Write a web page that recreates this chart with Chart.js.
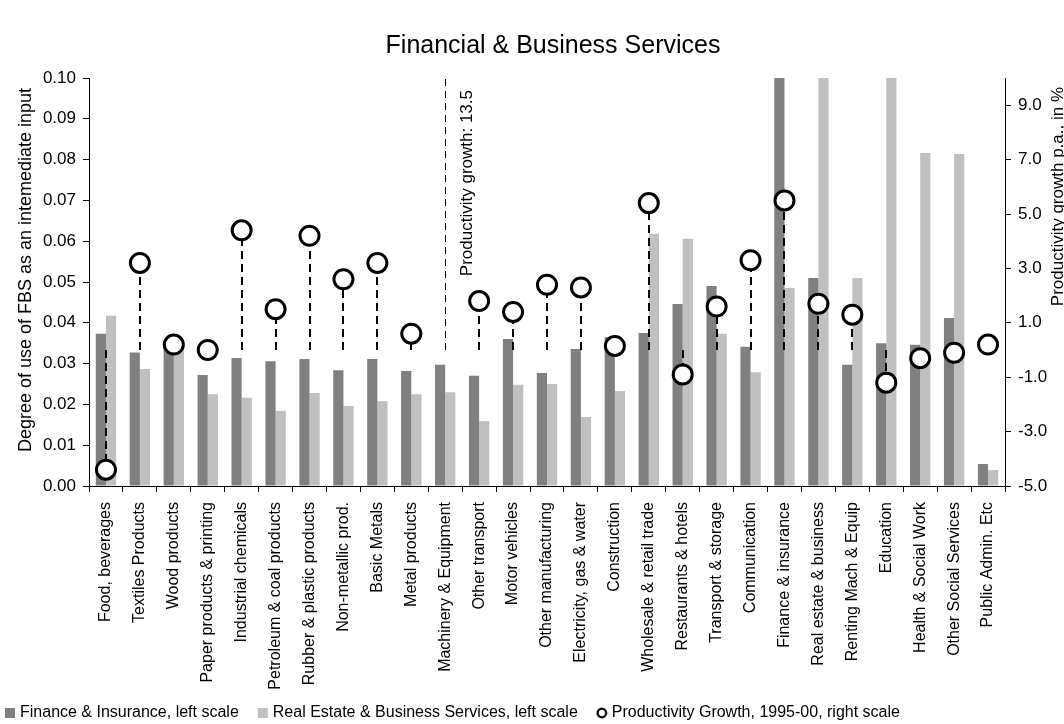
<!DOCTYPE html>
<html>
<head>
<meta charset="utf-8">
<script src="https://cdn.jsdelivr.net/npm/chart.js@4.4.0/dist/chart.umd.min.js"></script>
<style>
html,body{margin:0;padding:0;background:#ffffff;}
#wrap{width:1064px;height:724px;position:relative;overflow:hidden;}
canvas{display:block;}
</style>
</head>
<body>
<div id="wrap"><canvas id="c" width="1064" height="724"></canvas></div>
<script>
// ---------------- DATA ----------------
const categories = [
  'Food, beverages', 'Textiles Products', 'Wood products', 'Paper products & printing',
  'Industrial chemicals', 'Petroleum & coal products', 'Rubber & plastic products',
  'Non-metallic prod.', 'Basic Metals', 'Metal products', 'Machinery & Equipment',
  'Other transport', 'Motor vehicles', 'Other manufacturing', 'Electricity, gas & water',
  'Construction', 'Wholesale & retail trade', 'Restaurants & hotels', 'Transport & storage',
  'Communication', 'Finance & insurance', 'Real estate & business', 'Renting Mach & Equip',
  'Education', 'Health & Social Work', 'Other Social Services', 'Public Admin. Etc'
];
const financeInsurance = [
  0.0373, 0.0327, 0.0350, 0.0272, 0.0314, 0.0306, 0.0311, 0.0284, 0.0311, 0.0282,
  0.0297, 0.0270, 0.0360, 0.0277, 0.0336, 0.0365, 0.0375, 0.0446, 0.0490, 0.0341,
  0.1150, 0.0510, 0.0297, 0.0350, 0.0346, 0.0412, 0.0054
];
const realEstateBusiness = [
  0.0417, 0.0287, 0.0340, 0.0225, 0.0216, 0.0184, 0.0228, 0.0196, 0.0208, 0.0225,
  0.0230, 0.0159, 0.0248, 0.0250, 0.0169, 0.0233, 0.0618, 0.0606, 0.0373, 0.0279,
  0.0485, 0.1250, 0.0510, 0.1200, 0.0816, 0.0814, 0.0039
];
const productivityGrowth = [
  -4.4, 3.2, 0.2, 0.0, 4.4, 1.5, 4.2, 2.6, 3.2, 0.6,
  13.5, 1.8, 1.4, 2.4, 2.3, 0.15, 5.4, -0.9, 1.6, 3.3,
  5.5, 1.7, 1.3, -1.2, -0.3, -0.1, 0.2
];
const leftTicks = [0, 0.01, 0.02, 0.03, 0.04, 0.05, 0.06, 0.07, 0.08, 0.09, 0.10];
const rightTicks = [-5, -3, -1, 1, 3, 5, 7, 9];
const LEFT_MIN = 0, LEFT_MAX = 0.10;
const RIGHT_MIN = -5, RIGHT_MAX = 10;

const seriesNames = [
  'Finance & Insurance, left scale',
  'Real Estate & Business Services, left scale',
  'Productivity Growth, 1995-00, right scale'
];
const titleText = 'Financial & Business Services';
const leftTitle = 'Degree of use of FBS as an intemediate input';
const rightTitle = 'Productivity growth p.a., in %';

// ---------------- STYLE ----------------
const FONT = "'Liberation Sans', Arial, Helvetica, sans-serif";
const DARK = '#808080';
const LIGHT = '#c0c0c0';
const PAD_LEFT = -14;

function marker(kind) {
  const c = document.createElement('canvas');
  c.width = 12; c.height = 12;
  const g = c.getContext('2d');
  if (kind === 'circle') {
    g.lineWidth = 2.2; g.strokeStyle = '#000'; g.fillStyle = '#fff';
    g.beginPath(); g.arc(6, 6, 4.3, 0, Math.PI * 2); g.fill(); g.stroke();
  } else {
    g.fillStyle = kind; g.fillRect(1, 1, 10, 10);
  }
  return c;
}
const legendMarkers = [marker(DARK), marker(LIGHT), marker('circle')];

function vText(ctx, text, x, y, size, align) {
  ctx.save();
  ctx.translate(x, y);
  ctx.rotate(-Math.PI / 2);
  ctx.font = size + 'px ' + FONT;
  ctx.fillStyle = '#000';
  ctx.textAlign = align;
  ctx.textBaseline = 'middle';
  ctx.fillText(text, 0, 0);
  ctx.restore();
}

const extras = {
  id: 'extras',
  afterLayout(chart) {
    // let the rotated category labels use the space down to the legend text
    chart.scales.x.bottom = chart.height - 28;
  },
  beforeDatasetDraw(chart, args) {
    if (args.index !== 2) return;
    const {ctx, chartArea} = chart;
    const xs = chart.scales.x, ys = chart.scales.y2;
    ctx.save();
    ctx.beginPath();
    ctx.rect(chartArea.left, chartArea.top - 2, chartArea.right - chartArea.left, chartArea.bottom - chartArea.top + 2);
    ctx.clip();
    ctx.strokeStyle = '#000';
    productivityGrowth.forEach((v, i) => {
      const off = v > RIGHT_MAX;
      const px = Math.round(xs.getPixelForValue(i));
      ctx.lineWidth = off ? 1 : 2;
      ctx.setLineDash(off ? [7, 5] : [8, 5]);
      const x = off ? px + 0.5 : px;
      const y0 = ys.getPixelForValue(0);
      const y1 = ys.getPixelForValue(off ? RIGHT_MAX : v);
      ctx.beginPath();
      ctx.moveTo(x, y0);
      ctx.lineTo(x, y1);
      ctx.stroke();
      if (off) {
        ctx.setLineDash([]);
        vText(ctx, 'Productivity growth: ' + v, px + 22, chartArea.top + 12, 17, 'right');
      }
    });
    ctx.restore();
  },
  afterDraw(chart) {
    const {ctx, chartArea} = chart;
    vText(ctx, rightTitle, 1058, chartArea.top + 9, 17, 'right');
    vText(ctx, leftTitle, 26, 270, 18, 'center');
    ctx.save();
    ctx.font = '25px ' + FONT;
    ctx.fillStyle = '#000';
    ctx.textAlign = 'center';
    ctx.textBaseline = 'middle';
    ctx.fillText(titleText, (chartArea.left + chartArea.right) / 2 + 6, 46);
    ctx.restore();
  }
};

const tickFont = {family: FONT, size: 17};

new Chart(document.getElementById('c'), {
  type: 'bar',
  data: {
    labels: categories,
    datasets: [
      {
        label: seriesNames[0], data: financeInsurance, backgroundColor: DARK,
        yAxisID: 'y', order: 1, categoryPercentage: 0.6, barPercentage: 1.0
      },
      {
        label: seriesNames[1], data: realEstateBusiness, backgroundColor: LIGHT,
        yAxisID: 'y', order: 2, categoryPercentage: 0.6, barPercentage: 1.0
      },
      {
        type: 'line', label: seriesNames[2],
        data: productivityGrowth.map(v => (v > RIGHT_MAX ? null : v)),
        yAxisID: 'y2', order: 0, showLine: false,
        pointRadius: 9.5, pointBorderWidth: 3, pointBorderColor: '#000',
        pointBackgroundColor: '#fff', borderColor: '#000', backgroundColor: '#fff',
        clip: false
      }
    ]
  },
  options: {
    responsive: false, animation: false, devicePixelRatio: 1,
    layout: {padding: {left: PAD_LEFT, right: 0, top: 78, bottom: -7}},
    plugins: {
      title: {display: false},
      legend: {
        position: 'bottom', align: 'start',
        labels: {
          color: '#000', font: {family: FONT, size: 16},
          usePointStyle: true, boxWidth: 4, padding: 22,
          generateLabels(chart) {
            return seriesNames.map((t, i) => ({
              text: t, pointStyle: legendMarkers[i], fillStyle: '#000',
              strokeStyle: '#000', lineWidth: 0, hidden: false, datasetIndex: i
            }));
          }
        }
      },
      tooltip: {enabled: false}
    },
    scales: {
      x: {
        grid: {display: true, drawOnChartArea: false, drawTicks: true, tickLength: 6, tickColor: '#000', offset: true},
        border: {display: true, color: '#000', width: 1},
        ticks: {color: '#000', font: {family: FONT, size: 16}, maxRotation: 90, minRotation: 90, autoSkip: false, padding: 10},
        afterFit(s) { s.height = 197; }
      },
      y: {
        position: 'left', min: LEFT_MIN, max: LEFT_MAX,
        afterBuildTicks(s) { s.ticks = leftTicks.map(v => ({value: v})); },
        grid: {display: true, drawOnChartArea: false, drawTicks: true, tickLength: 6, tickColor: '#000'},
        border: {display: true, color: '#000', width: 1},
        ticks: {color: '#000', font: tickFont, padding: 7, callback: v => Number(v).toFixed(2)},
        afterFit(s) { s.width = 89 - PAD_LEFT; }
      },
      y2: {
        position: 'right', min: RIGHT_MIN, max: RIGHT_MAX,
        afterBuildTicks(s) { s.ticks = rightTicks.map(v => ({value: v})); },
        grid: {display: true, drawOnChartArea: false, drawTicks: true, tickLength: 6, tickColor: '#000'},
        border: {display: true, color: '#000', width: 1},
        ticks: {color: '#000', font: tickFont, padding: 7, callback: v => Number(v).toFixed(1)},
        afterFit(s) { s.width = 59; }
      }
    }
  },
  plugins: [extras]
});
</script>
</body>
</html>
